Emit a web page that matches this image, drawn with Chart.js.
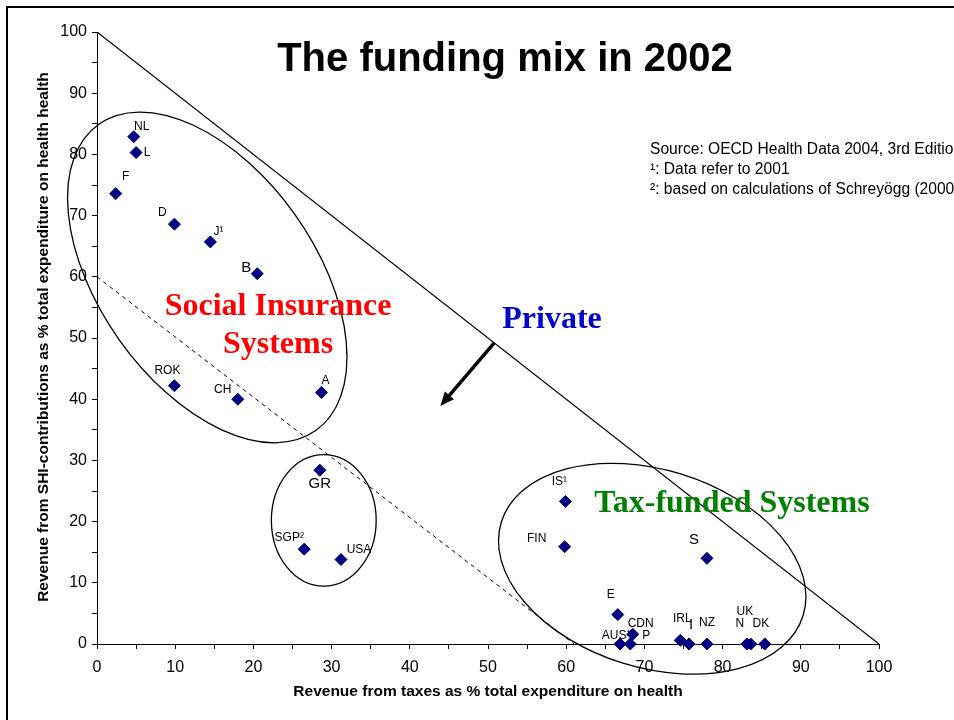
<!DOCTYPE html>
<html>
<head>
<meta charset="utf-8">
<script src="https://cdn.jsdelivr.net/npm/chart.js@4.4.1/dist/chart.umd.min.js"></script>
<style>
  body { margin: 0; background: #fff; }
  #wrap { width: 954px; height: 720px; }
</style>
</head>
<body>
<div id="wrap"><canvas id="mix" width="954" height="720"></canvas></div>
<script>
// Country data (OECD Health Data 2004)
const countries = ["NL", "L", "F", "D", "J\u00b9", "B", "ROK", "CH", "A", "GR", "SGP\u00b2", "USA",
  "IS\u00b9", "FIN", "S", "E", "CDN", "AUS\u00b9", "P", "IRL", "I", "NZ", "UK", "N", "DK"];
const taxShare = [4.7, 5.0, 2.4, 9.9, 14.5, 20.5, 9.9, 18.0, 28.7, 28.5, 26.5, 31.2,
  59.9, 59.8, 78.0, 66.6, 68.5, 66.9, 68.2, 74.6, 75.7, 78.0, 83.1, 83.6, 85.4];
const shiShare = [82.9, 80.3, 73.6, 68.6, 65.7, 60.5, 42.2, 40.0, 41.1, 28.4, 15.5, 13.8,
  23.3, 15.9, 14.0, 4.8, 1.6, 0, 0, 0.6, 0, 0, 0, 0, 0];

// reference lines
const privateLineX = [0, 100];
const privateLineY = [100, 0];
const shiLineX = [0, 61];
const shiLineY = [60, 0];

// tick labels on both axes
const tickLabels = [0, 10, 20, 30, 40, 50, 60, 70, 80, 90, 100];

// label offsets (px) for each country label, same order as countries
const labelOffsets = [[8, -10], [11, 0], [10, -17], [-12, -11], [8, -10], [-11, -6], [-7, -15],
  [-15, -10], [4, -12], [0, 14], [-15, -11], [18, -10], [-6, -20], [-28, -8], [-13, -18],
  [-7, -20], [8, -11], [-4, -8], [16, -8], [2, -22], [2, -19], [0, -21], [-2, -32], [-11, -20], [-4, -20]];
const bigLabels = ["B", "GR", "S", "I"];

// group ellipses: centre in data units, semi axes in x-units, rotation in degrees
const groups = [
  { cx: 14.1, cy: 59.9, a: 24.0, b: 13.8, rot: 54.7 },
  { cx: 29.0, cy: 20.2, a: 6.7, b: 8.4, rot: 0 },
  { cx: 71.0, cy: 12.3, a: 20.2, b: 12.65, rot: 17.2 }
];

const arrowFrom = [50.8, 49.2];
const arrowTo = [43.9, 38.9];

const overlay = {
  id: "overlay",
  beforeDraw(chart) {
    const ctx = chart.ctx;
    ctx.save();
    ctx.fillStyle = "#fff";
    ctx.fillRect(0, 0, chart.width, chart.height);
    ctx.strokeStyle = "#000";
    ctx.lineWidth = 2;
    ctx.beginPath();
    ctx.moveTo(7, chart.height + 5);
    ctx.lineTo(7, 7);
    ctx.lineTo(chart.width + 5, 7);
    ctx.stroke();
    ctx.restore();
  },
  afterDraw(chart) {
    const ctx = chart.ctx;
    const xs = chart.scales.x, ys = chart.scales.y;
    const unit = xs.getPixelForValue(1) - xs.getPixelForValue(0);
    ctx.save();

    // ellipses
    ctx.strokeStyle = "#000";
    ctx.lineWidth = 1.3;
    groups.forEach((g) => {
      ctx.beginPath();
      ctx.ellipse(xs.getPixelForValue(g.cx), ys.getPixelForValue(g.cy), g.a * unit, g.b * unit,
        g.rot * Math.PI / 180, 0, Math.PI * 2);
      ctx.stroke();
    });

    // arrow
    const x1 = xs.getPixelForValue(arrowFrom[0]), y1 = ys.getPixelForValue(arrowFrom[1]);
    const x2 = xs.getPixelForValue(arrowTo[0]), y2 = ys.getPixelForValue(arrowTo[1]);
    const ang = Math.atan2(y2 - y1, x2 - x1);
    ctx.lineWidth = 3.5;
    ctx.beginPath();
    ctx.moveTo(x1, y1);
    ctx.lineTo(x2 - 8 * Math.cos(ang), y2 - 8 * Math.sin(ang));
    ctx.stroke();
    ctx.fillStyle = "#000";
    ctx.beginPath();
    ctx.moveTo(x2, y2);
    ctx.lineTo(x2 - 14 * Math.cos(ang) + 6 * Math.sin(ang), y2 - 14 * Math.sin(ang) - 6 * Math.cos(ang));
    ctx.lineTo(x2 - 14 * Math.cos(ang) - 6 * Math.sin(ang), y2 - 14 * Math.sin(ang) + 6 * Math.cos(ang));
    ctx.closePath();
    ctx.fill();

    // country labels
    ctx.fillStyle = "#000";
    ctx.textAlign = "center";
    ctx.textBaseline = "middle";
    countries.forEach((c, i) => {
      const px = xs.getPixelForValue(taxShare[i]) + labelOffsets[i][0];
      const py = ys.getPixelForValue(shiShare[i]) + labelOffsets[i][1];
      ctx.font = (bigLabels.includes(c) ? "15px" : "12px") + " 'Liberation Sans', Arial, sans-serif";
      ctx.fillText(c, px, py);
    });

    // title
    ctx.textBaseline = "alphabetic";
    ctx.font = "bold 40px 'Liberation Sans', Arial, sans-serif";
    ctx.fillText("The funding mix in 2002", 505, 71);

    // group names
    ctx.font = "bold 32px 'Liberation Serif', 'Times New Roman', serif";
    ctx.fillStyle = "#ff0000";
    ctx.fillText("Social Insurance", 278, 315);
    ctx.fillText("Systems", 278, 353);
    ctx.fillStyle = "#0000cc";
    ctx.fillText("Private", 552, 328);
    ctx.fillStyle = "#008000";
    ctx.fillText("Tax-funded Systems", 732, 512);

    // source notes
    ctx.fillStyle = "#000";
    ctx.textAlign = "left";
    ctx.font = "15.6px 'Liberation Sans', Arial, sans-serif";
    ctx.fillText("Source: OECD Health Data 2004, 3rd Edition", 650, 154);
    ctx.fillText("\u00b9: Data refer to 2001", 650, 174);
    ctx.fillText("\u00b2: based on calculations of Schrey\u00f6gg (2000)", 650, 194);

    // axis titles
    ctx.textAlign = "center";
    ctx.textBaseline = "middle";
    ctx.font = "bold 15.5px 'Liberation Sans', Arial, sans-serif";
    ctx.fillText("Revenue from taxes as % total expenditure on health", 488, 692);
    ctx.translate(44, 337);
    ctx.rotate(-Math.PI / 2);
    ctx.fillText("Revenue from SHI-contributions as % total expenditure on health health", 0, 0);
    ctx.restore();
  }
};

const tickFont = { family: "'Liberation Sans', Arial, sans-serif", size: 16 };
const showTick = (v) => (tickLabels.includes(v) ? v : "");

new Chart(document.getElementById("mix"), {
  type: "scatter",
  data: {
    datasets: [
      {
        data: countries.map((c, i) => ({ x: taxShare[i], y: shiShare[i] })),
        pointStyle: "rectRot",
        pointRadius: 6,
        backgroundColor: "#000080",
        borderColor: "#000080",
        borderWidth: 1,
        clip: false
      },
      {
        data: privateLineX.map((x, i) => ({ x: x, y: privateLineY[i] })),
        showLine: true,
        pointRadius: 0,
        borderColor: "#000",
        borderWidth: 1.2
      },
      {
        data: shiLineX.map((x, i) => ({ x: x, y: shiLineY[i] })),
        showLine: true,
        pointRadius: 0,
        borderColor: "#000",
        borderWidth: 1,
        borderDash: [4, 4]
      }
    ]
  },
  options: {
    responsive: false,
    animation: false,
    layout: { padding: { left: 0, top: 32, right: 75, bottom: 0 } },
    plugins: { legend: { display: false }, tooltip: { enabled: false } },
    scales: {
      x: {
        min: 0, max: 100,
        afterFit: (s) => { s.height = 76; },
        ticks: { stepSize: 5, autoSkip: false, maxRotation: 0, color: "#000", font: tickFont, padding: 9, callback: showTick },
        grid: { drawOnChartArea: false, tickLength: 5, color: "#000" },
        border: { color: "#000", width: 1 }
      },
      y: {
        min: 0, max: 100,
        afterFit: (s) => { s.width = 97; },
        ticks: { stepSize: 5, autoSkip: false, color: "#000", font: tickFont, padding: 5, callback: showTick },
        grid: { drawOnChartArea: false, tickLength: 5, color: "#000" },
        border: { color: "#000", width: 1 }
      }
    }
  },
  plugins: [overlay]
});
</script>
</body>
</html>
